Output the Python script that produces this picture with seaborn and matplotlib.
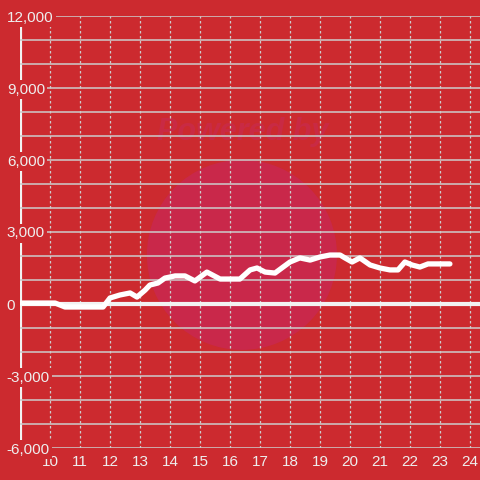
import matplotlib
matplotlib.use("Agg")
import matplotlib.pyplot as plt
import matplotlib.patches as mpatches
import seaborn as sns
import pandas as pd

# hour of day and running value
hours = [9.0, 10.0, 10.17, 10.5, 11.77, 12.0, 12.33, 12.67, 12.9, 13.17,
         13.33, 13.6, 13.83, 14.17, 14.5, 14.83, 15.23, 15.67, 16.33, 16.67,
         16.9, 17.17, 17.5, 17.77, 18.0, 18.33, 18.67, 19.0, 19.33, 19.67,
         19.83, 20.07, 20.33, 20.67, 21.0, 21.33, 21.6, 21.83, 22.07, 22.33,
         22.6, 23.0, 23.33]
values = [40, 40, 40, -125, -125, 250, 375, 460, 290, 580,
          790, 875, 1080, 1170, 1170, 960, 1330, 1040, 1040, 1420,
          1500, 1330, 1290, 1540, 1750, 1920, 1830, 1960, 2040, 2040,
          1920, 1750, 1920, 1625, 1500, 1420, 1420, 1750, 1625, 1540,
          1670, 1670, 1670]

x_ticks = list(range(10, 25))
y_major = [-6000, -3000, 0, 3000, 6000, 9000, 12000]
y_minor = list(range(-6000, 12001, 1000))

RED = "#cc2a2f"
TXT = "#eeeeee"
GRID = "#cccccc"

sns.set_theme(style="dark")
plt.rcParams["font.family"] = ["Liberation Sans", "DejaVu Sans"]

df = pd.DataFrame({"hour": hours, "value": values})

fig = plt.figure(figsize=(4.8, 4.8), dpi=100, facecolor=RED)
ax = fig.add_axes([20 / 480, 32 / 480, 460 / 480, 432 / 480])
ax.set_facecolor(RED)

# faint watermark behind the grid
ax.text(0.505, 0.725, "Powered by", transform=fig.transFigure, color="#c92a44",
        fontsize=22, fontweight="bold", style="italic", ha="center",
        va="center", zorder=0.3)
ax.add_patch(mpatches.Circle((0.504, 0.469), 0.198, transform=fig.transFigure,
                             facecolor="#c9284a", edgecolor="none", zorder=0.2))

sns.lineplot(data=df, x="hour", y="value", ax=ax, color="white",
             linewidth=3.8, zorder=3)
ax.axhline(0, color="#f2f2f2", linewidth=3, zorder=2)
ax.axvline(9, color="#f2f2f2", linewidth=3, zorder=0.4)

ax.set_xlim(9, 24.333)
ax.set_ylim(-6000, 12000)
ax.set_xticks(x_ticks)
ax.set_xticklabels([str(t) for t in x_ticks])
ax.set_yticks(y_major)
ax.set_yticks(y_minor, minor=True)
ax.set_yticklabels([f"{v:,}" for v in y_major])

ax.set_axisbelow(True)
ax.yaxis.grid(True, which="both", color=GRID, linewidth=1.1)
ax.xaxis.grid(True, color=GRID, linewidth=0.9, linestyle=(0, (2, 2)))

ax.tick_params(axis="x", length=0, pad=5, labelsize=11, labelcolor=TXT)
ax.tick_params(axis="y", which="both", length=0, pad=9.5, labelsize=11,
               labelcolor=TXT)
for lab in ax.get_yticklabels():
    lab.set_ha("left")
    lab.set_bbox(dict(facecolor=RED, edgecolor="none", pad=1.5))

for s in ax.spines.values():
    s.set_visible(False)
ax.set_xlabel("")
ax.set_ylabel("")

fig.savefig("out.png", dpi=100, facecolor=RED)
